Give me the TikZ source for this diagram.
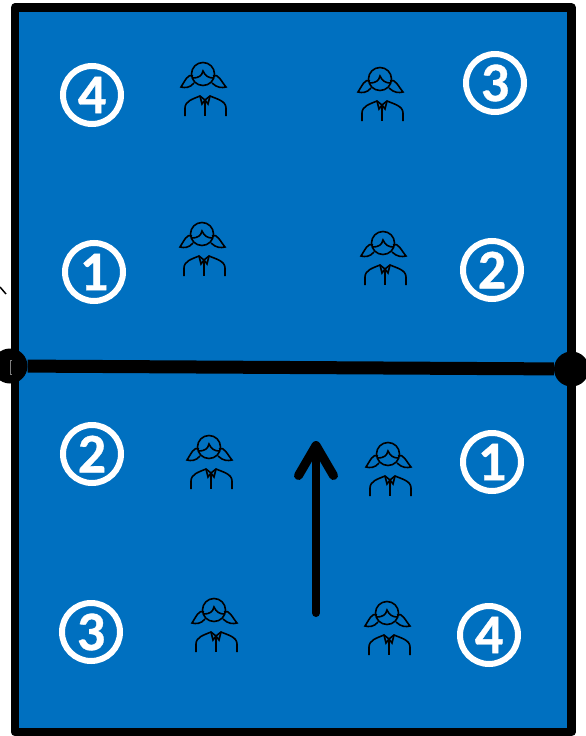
\documentclass[tikz,border=0pt]{standalone}
\usepackage{xcolor}
\usepackage{fontspec}
\setmainfont{Carlito}
\newfontfamily\zonefont[BoldFeatures={FakeBold=0.6}]{Carlito}
\usetikzlibrary{arrows.meta}
\definecolor{courtblue}{HTML}{0070C0}
\tikzset{
  zone/.style={
    circle,
    draw=white,
    line width=6pt,
    text=white,
    minimum size=58pt,
    inner sep=0pt,
    font=\zonefont\fontsize{56}{56}\selectfont\bfseries
  },
  courtline/.style={
    draw=black,
    line width=8.5pt,
    line join=round
  },
  netline/.style={
    draw=black,
    line width=13pt
  },
  netpost/.style={
    circle,
    fill=black,
    minimum size=35pt,
    inner sep=0pt
  },
  flowarrow/.style={
    -{Straight Barb[length=30pt,width=35pt,line width=9pt,round]},
    line width=8pt,
    line cap=round,
    draw=black
  },
  girl/.pic={
    % head and fringe
    \draw[line width=1.6pt] (-2,0) circle (11.5);
    \draw[line width=1.6pt] (-12,4) .. controls (-7,4) and (-3,2) .. (-2,-3) .. controls (0,2) and (4,4) .. (8,4);
    % pigtails
    \draw[line width=1.6pt] (-12,2) .. controls (-17,-1) and (-20,7) .. (-24,13) .. controls (-20,14) and (-15,14) .. (-11,9);
    \draw[line width=1.6pt] (8,2) .. controls (13,-1) and (16,7) .. (21,13) .. controls (17,14) and (12,14) .. (7,9);
    % body
    \draw[line width=1.6pt] (-20,42) -- (-20,34) .. controls (-20,27) and (-12,25) .. (-5,22) -- (0,26) -- (5,22) .. controls (12,25) and (21,27) .. (21,34) -- (21,42);
    \draw[line width=1.6pt] (0,26) -- (0,42);
    \draw[line width=1.6pt] (-5,22) -- (-3,30) -- (0,26) -- (3,30) -- (5,22);
  }
}

\begin{document}
\begin{tikzpicture}[x=1pt,y=-1pt]
    \useasboundingbox (0,0) rectangle (586,736);
    \fill[courtblue] (15,8) rectangle (571,731);

    % stub beside the court
    \coordinate (stubtop) at (0,287);
    \coordinate (stubend) at (6,294);
    \draw[line width=1.5pt] (stubtop) -- (stubend);

    % court
    \coordinate (cornernw) at (15,7.5);
    \coordinate (cornerse) at (571.5,732);
    \draw[courtline] (cornernw) rectangle (cornerse);

    % net
    \node[netpost] (postleft) at (10,366) {};
    \node[netpost] (postright) at (571.5,369) {};
    \draw[netline] (postleft) -- (postright);
    \draw[gray, line width=0.6pt] (12,360) -- (10,360) -- (10,374) -- (12,374);

    % zones, far side
    \node[zone] (farfour) at (92,95) {4};
    \node[zone] (farthree) at (495,83) {3};
    \node[zone] (farone) at (94,272) {1};
    \node[zone] (fartwo) at (492,270) {2};

    % zones, near side
    \node[zone] (neartwo) at (92,454) {2};
    \node[zone] (nearone) at (492,462) {1};
    \node[zone] (nearthree) at (91,632) {3};
    \node[zone] (nearfour) at (489,635) {4};

    % players
    \pic (playera) at (205,74) {girl};
    \pic (playerb) at (382,79) {girl};
    \pic (playerc) at (204,234) {girl};
    \pic (playerd) at (385,243) {girl};
    \pic (playere) at (211,447) {girl};
    \pic (playerf) at (390,454) {girl};
    \pic (playerg) at (216,610) {girl};
    \pic (playerh) at (389,613) {girl};

    % direction of play
    \coordinate (arrowfoot) at (316,613);
    \coordinate (arrowtip) at (316,441);
    \draw[flowarrow] (arrowfoot) -- (arrowtip);
\end{tikzpicture}
\end{document}
